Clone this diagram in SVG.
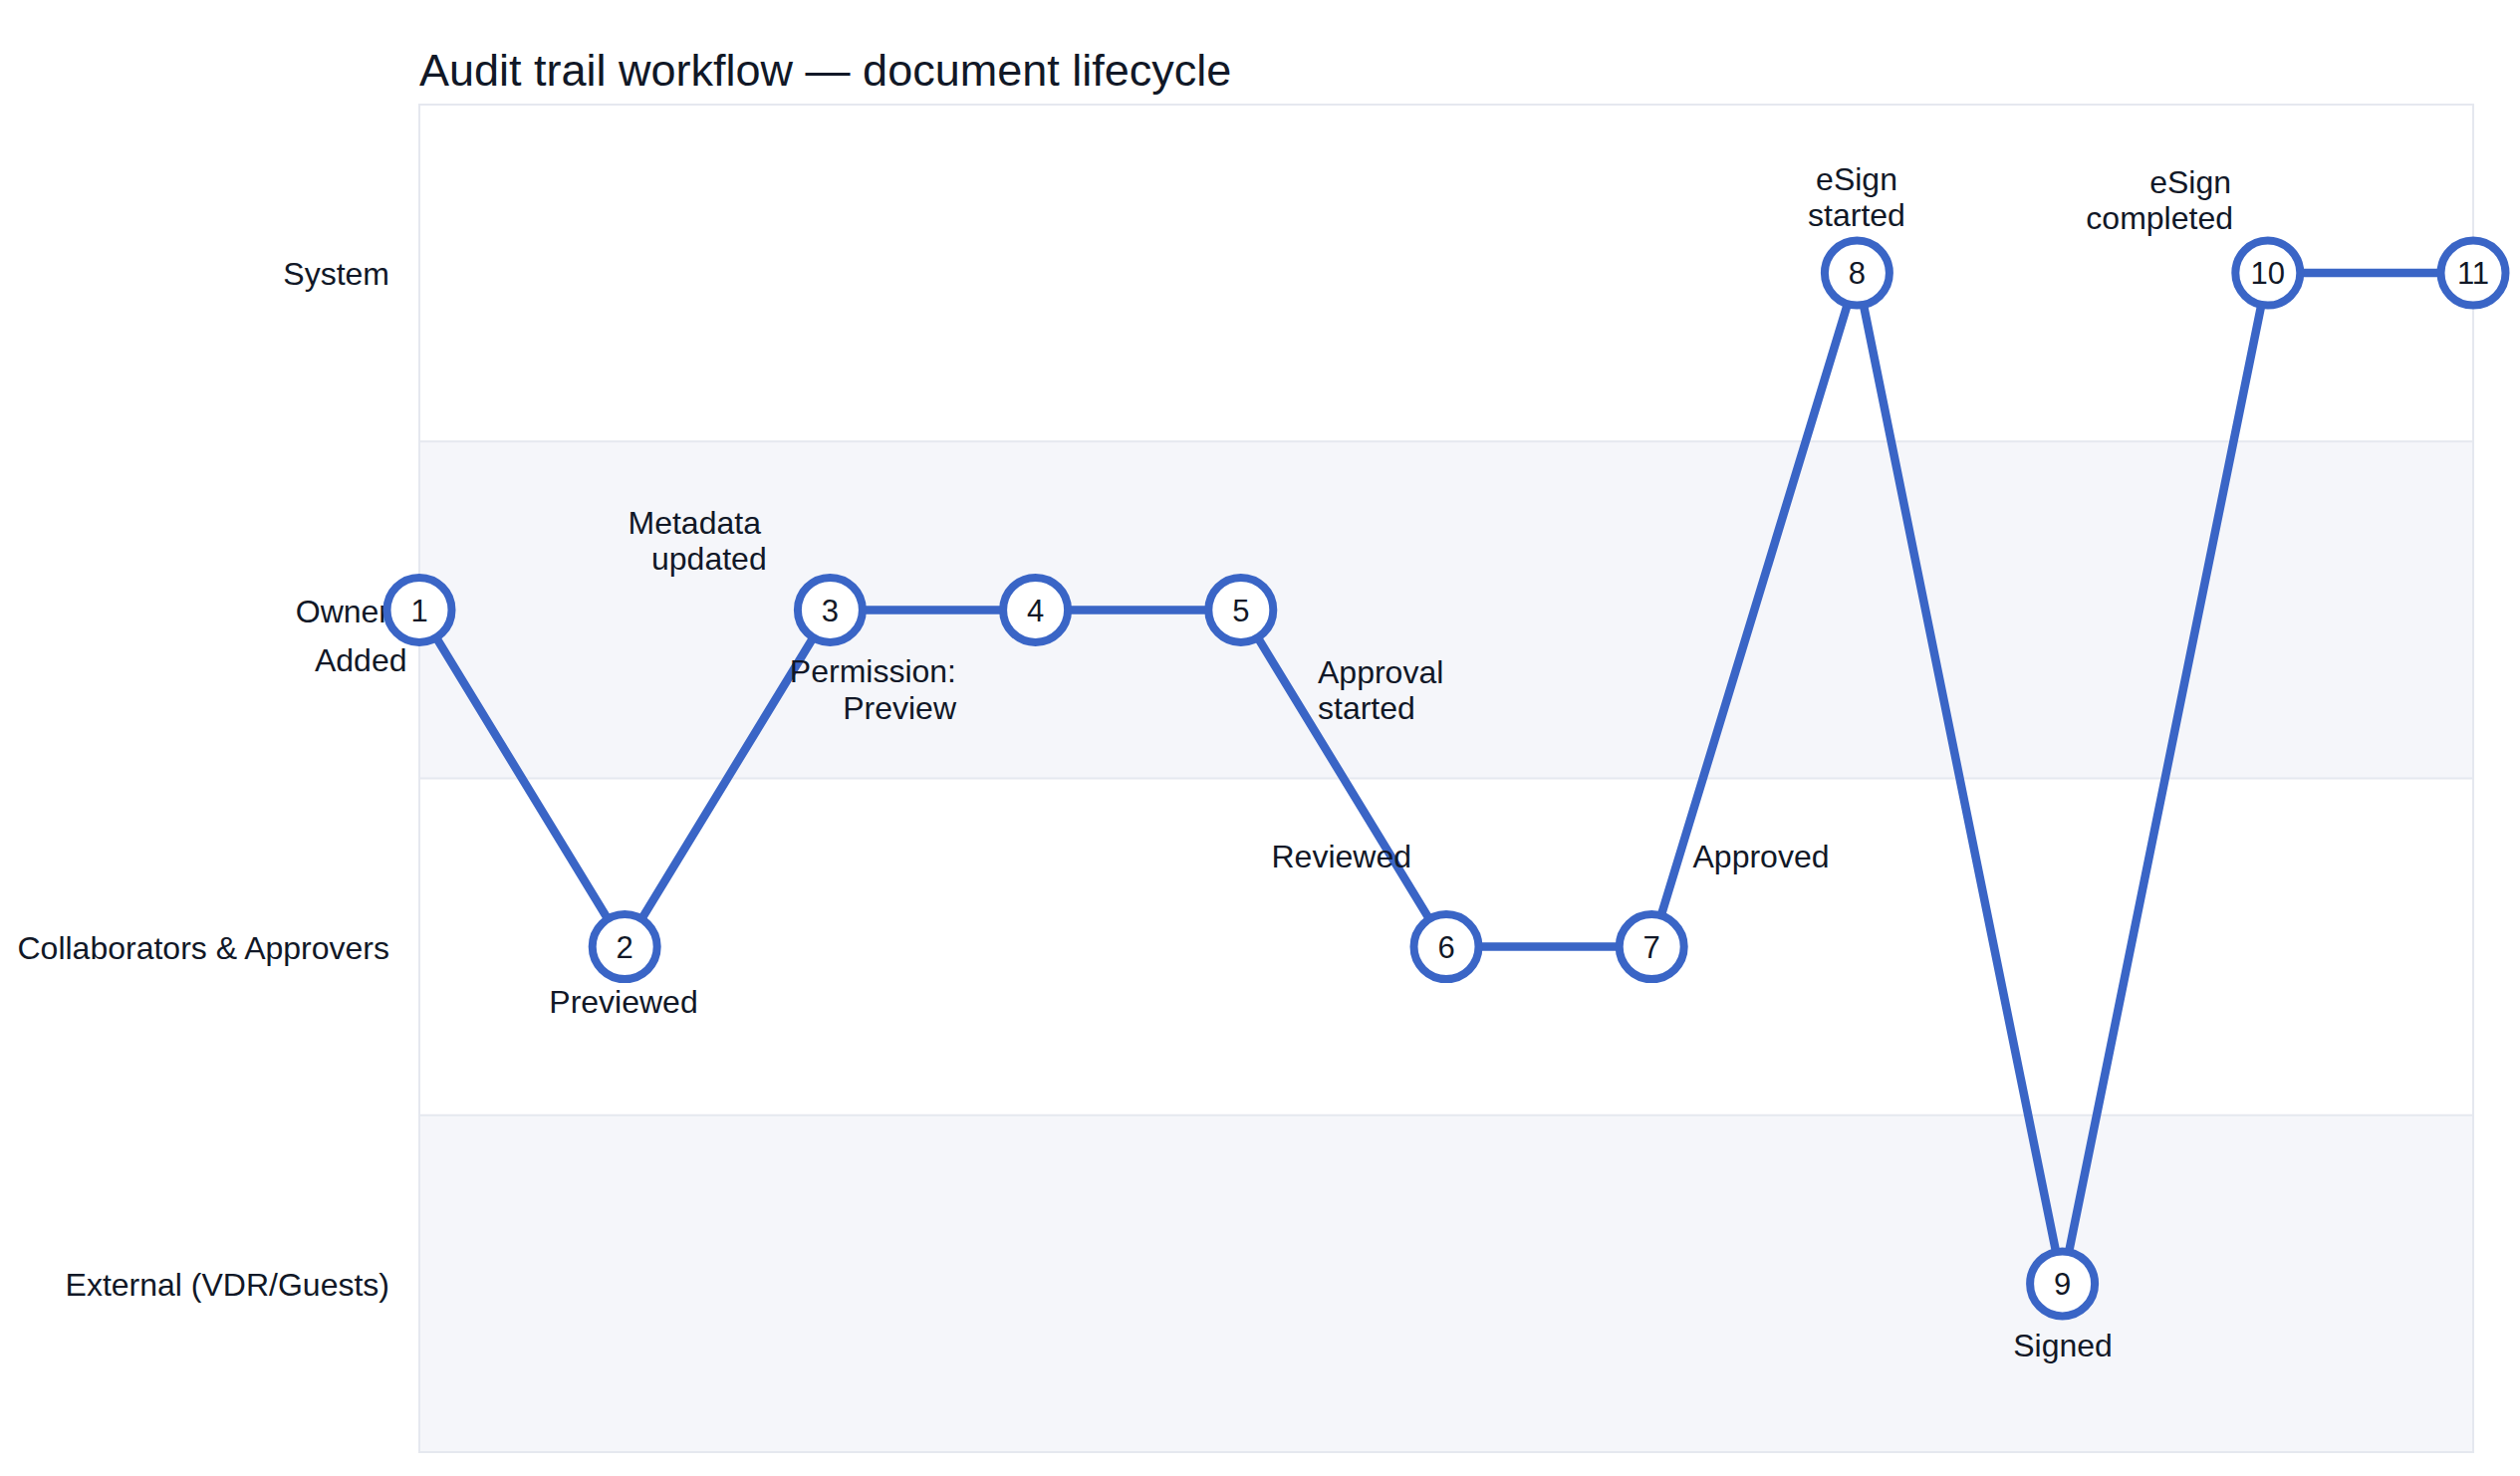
<svg xmlns="http://www.w3.org/2000/svg" width="2530" height="1482" viewBox="0 0 2530 1482">
  <style>
    text { font-family: "Liberation Sans", Arial, Helvetica, sans-serif; fill: #111827; }
    .title { font-size: 45px; }
    .lane-label { font-size: 32px; text-anchor: end; }
    .lbl { font-size: 32px; }
    .num { font-size: 31px; text-anchor: middle; }
    .lane-a { fill: #ffffff; }
    .lane-b { fill: #f5f6fa; }
    .sep { stroke: #e5e8ef; stroke-width: 2; fill: none; }
    .edge { stroke: #3a65c6; stroke-width: 8.5; fill: none; stroke-linejoin: round; stroke-linecap: round; }
    .node circle { fill: #ffffff; stroke: #3a65c6; stroke-width: 8; }
  </style>
  <rect width="2530" height="1482" fill="#ffffff"/>
  <text class="title" x="421" y="86">Audit trail workflow — document lifecycle</text>

  <g id="lanes">
    <rect class="lane-a" x="421" y="105" width="2062" height="338.25"/>
    <rect class="lane-b" x="421" y="443.25" width="2062" height="338.25"/>
    <rect class="lane-a" x="421" y="781.5" width="2062" height="338.25"/>
    <rect class="lane-b" x="421" y="1119.75" width="2062" height="338.25"/>
    <line class="sep" x1="421" y1="443.25" x2="2483" y2="443.25"/>
    <line class="sep" x1="421" y1="781.5" x2="2483" y2="781.5"/>
    <line class="sep" x1="421" y1="1119.75" x2="2483" y2="1119.75"/>
    <rect class="sep" x="421" y="105" width="2062" height="1353"/>
    <text class="lane-label" x="391" y="286">System</text>
    <text class="lane-label" x="391" y="625">Owner</text>
    <text class="lane-label" x="391" y="963">Collaborators &amp; Approvers</text>
    <text class="lane-label" x="391" y="1301">External (VDR/Guests)</text>
  </g>

  <g id="connectors">
    <polyline class="edge" points="421,612.4 627.2,950.6 833.4,612.4 1039.6,612.4 1245.8,612.4 1452,950.6 1658.2,950.6 1864.4,274.1 2070.6,1288.9 2276.8,274.1 2483,274.1"/>
  </g>

  <g id="labels">
    <text class="lbl" x="408.5" y="674" text-anchor="end">Added</text>
    <text class="lbl" x="626" y="1016.5" text-anchor="middle">Previewed</text>
    <text class="lbl"><tspan x="630.5" y="536">Metadata</tspan><tspan x="654" y="572">updated</tspan></text>
    <text class="lbl" text-anchor="end"><tspan x="960" y="685">Permission:</tspan><tspan x="960" y="721.5">Preview</tspan></text>
    <text class="lbl"><tspan x="1323" y="685.5">Approval</tspan><tspan x="1323" y="721.5">started</tspan></text>
    <text class="lbl" x="1417" y="870.5" text-anchor="end">Reviewed</text>
    <text class="lbl" x="1699.5" y="871">Approved</text>
    <text class="lbl" text-anchor="middle"><tspan x="1864" y="190.5">eSign</tspan><tspan x="1864" y="226.5">started</tspan></text>
    <text class="lbl" text-anchor="end"><tspan x="2240" y="194">eSign</tspan><tspan x="2242" y="230">completed</tspan></text>
    <text class="lbl" x="2071" y="1361.5" text-anchor="middle">Signed</text>
  </g>

  <g id="node-1" class="node"><circle cx="421" cy="612.4" r="32.5"/><text class="num" x="421" y="623.5">1</text></g>
  <g id="node-2" class="node"><circle cx="627.2" cy="950.6" r="32.5"/><text class="num" x="627.2" y="961.7">2</text></g>
  <g id="node-3" class="node"><circle cx="833.4" cy="612.4" r="32.5"/><text class="num" x="833.4" y="623.5">3</text></g>
  <g id="node-4" class="node"><circle cx="1039.6" cy="612.4" r="32.5"/><text class="num" x="1039.6" y="623.5">4</text></g>
  <g id="node-5" class="node"><circle cx="1245.8" cy="612.4" r="32.5"/><text class="num" x="1245.8" y="623.5">5</text></g>
  <g id="node-6" class="node"><circle cx="1452" cy="950.6" r="32.5"/><text class="num" x="1452" y="961.7">6</text></g>
  <g id="node-7" class="node"><circle cx="1658.2" cy="950.6" r="32.5"/><text class="num" x="1658.2" y="961.7">7</text></g>
  <g id="node-8" class="node"><circle cx="1864.4" cy="274.1" r="32.5"/><text class="num" x="1864.4" y="285.2">8</text></g>
  <g id="node-9" class="node"><circle cx="2070.6" cy="1288.9" r="32.5"/><text class="num" x="2070.6" y="1300">9</text></g>
  <g id="node-10" class="node"><circle cx="2276.8" cy="274.1" r="32.5"/><text class="num" x="2276.8" y="285.2">10</text></g>
  <g id="node-11" class="node"><circle cx="2483" cy="274.1" r="32.5"/><text class="num" x="2483" y="285.2">11</text></g>
</svg>
